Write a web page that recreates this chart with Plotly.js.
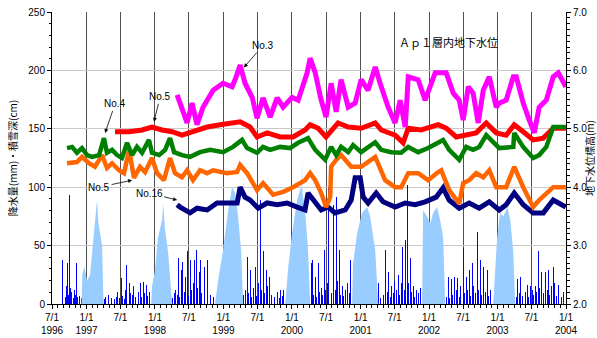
<!DOCTYPE html>
<html><head><meta charset="utf-8">
<script src="https://cdn.plot.ly/plotly-3.0.1.min.js"></script>
<style>html,body{margin:0;padding:0;background:#fff}#chart{width:597px;height:338px}</style>
</head><body><div id="chart"></div>
<script>
// ---- tick labels ----
const xTickDates = ['1996-07-01','1997-01-01','1997-07-01','1998-01-01','1998-07-01','1999-01-01','1999-07-01','2000-01-01','2000-07-01','2001-01-01','2001-07-01','2002-01-01','2002-07-01','2003-01-01','2003-07-01','2004-01-01'];
const xTickText = ['7/1<br>1996','1/1<br>1997','7/1','1/1<br>1998','7/1','1/1<br>1999','7/1','1/1<br>2000','7/1','1/1<br>2001','7/1','1/1<br>2002','7/1','1/1<br>2003','7/1','1/1<br>2004'];

// ---- groundwater level (m) ----
const no4Dates = ['1996-09-19','1996-10-16','1996-11-11','1996-12-08','1997-01-04','1997-01-30','1997-03-09','1997-04-04','1997-04-20','1997-05-17','1997-06-13','1997-07-09','1997-08-05','1997-09-01','1997-09-27','1997-10-24','1997-11-30','1997-12-16','1998-01-23','1998-02-24','1998-03-22','1998-04-13','1998-05-25','1998-07-07','1998-08-29','1998-10-22','1998-12-30','1999-02-21','1999-04-10','1999-05-07','1999-06-29','1999-07-31','1999-09-07','1999-10-30','1999-12-22','2000-02-03','2000-03-27','2000-05-04','2000-06-26','2000-07-28','2000-08-24','2000-09-19','2000-10-27','2000-11-22','2001-01-04','2001-03-20','2001-04-21','2001-06-13','2001-08-05','2001-09-12','2001-11-04','2001-12-27','2002-03-17','2002-04-18','2002-06-11','2002-07-18','2002-08-24','2002-09-25','2002-11-02','2002-12-09','2003-01-10','2003-03-26','2003-03-31','2003-05-18','2003-07-10','2003-08-11','2003-09-18','2003-10-25','2003-12-31'];
const no4Level = [4.67,4.69,4.59,4.67,4.55,4.52,4.55,4.84,4.59,4.64,4.55,4.50,4.76,4.55,4.69,4.59,4.81,4.59,4.55,4.64,4.84,4.60,4.55,4.52,4.60,4.64,4.60,4.69,4.81,4.67,4.59,4.69,4.64,4.69,4.67,4.76,4.84,4.64,4.47,4.69,4.55,4.69,4.60,4.72,4.60,4.77,4.64,4.60,4.59,4.69,4.60,4.67,4.81,4.64,4.47,4.69,4.64,4.69,4.89,4.76,4.67,4.69,4.93,4.69,4.50,4.55,4.69,5.03,5.03];

const no5Dates = ['1997-06-02','1997-08-16','1997-10-24','1997-12-16','1998-02-08','1998-04-02','1998-05-25','1998-07-23','1998-10-06','1998-12-14','1999-03-31','1999-05-23','1999-06-29','1999-08-22','1999-10-30','2000-01-07','2000-03-11','2000-04-07','2000-05-20','2000-07-01','2000-09-03','2000-10-27','2001-01-04','2001-03-20','2001-04-21','2001-07-04','2001-08-16','2001-09-12','2001-11-20','2002-02-19','2002-04-02','2002-05-26','2002-07-18','2002-09-09','2002-11-02','2002-12-25','2003-02-16','2003-03-31','2003-05-18','2003-07-10','2003-09-02','2003-10-25','2003-12-31'];
const no5Level = [4.95,4.95,4.98,5.03,4.98,4.95,4.89,4.95,5.03,5.07,5.12,5.03,4.86,4.93,4.86,4.86,4.98,5.07,5.01,4.86,5.10,5.03,5.01,5.10,4.98,4.89,4.76,5.01,4.98,5.07,5.01,4.86,4.89,4.93,5.10,4.93,4.89,5.07,4.95,4.81,4.84,5.01,5.01];

const no3Dates = ['1998-04-29','1998-06-21','1998-07-18','1998-08-13','1998-09-14','1998-11-07','1998-12-30','1999-02-16','1999-03-04','1999-03-31','1999-04-26','1999-06-03','1999-06-29','1999-07-31','1999-09-07','1999-10-14','1999-11-15','2000-01-02','2000-02-03','2000-03-22','2000-04-07','2000-05-04','2000-06-05','2000-07-01','2000-07-28','2000-08-24','2000-09-19','2000-10-27','2000-12-03','2001-01-04','2001-02-10','2001-03-20','2001-04-15','2001-05-28','2001-07-04','2001-07-31','2001-08-27','2001-09-12','2001-11-04','2001-12-11','2002-02-03','2002-04-02','2002-05-10','2002-06-11','2002-07-02','2002-07-29','2002-08-24','2002-09-20','2002-10-17','2002-11-18','2002-12-25','2003-01-10','2003-02-16','2003-03-26','2003-04-11','2003-05-18','2003-06-19','2003-07-16','2003-08-11','2003-09-18','2003-10-25','2003-11-21','2003-12-31'];
const no3Level = [5.58,5.10,5.44,5.07,5.37,5.66,5.78,5.72,5.84,6.09,5.78,5.54,5.18,5.53,5.20,5.53,5.37,5.54,5.49,5.96,6.21,5.96,5.49,5.20,5.78,5.29,5.84,5.37,5.44,5.84,5.66,6.06,5.78,5.37,5.10,5.49,5.03,5.89,5.84,5.49,5.96,5.96,5.61,5.49,5.15,5.72,5.61,5.10,5.66,5.89,5.37,5.44,5.49,5.89,5.89,5.44,5.15,4.93,5.37,5.49,5.89,5.96,5.72];

const no5LowDates = ['1996-09-19','1996-11-11','1996-12-08','1997-01-14','1997-02-15','1997-03-25','1997-04-20','1997-05-17','1997-06-23','1997-07-20','1997-08-16','1997-09-11','1997-10-13','1997-11-09','1997-12-16','1998-01-12','1998-02-18','1998-03-22','1998-04-18','1998-05-25','1998-06-21','1998-07-23','1998-08-29','1998-10-06','1998-11-07','1999-01-20','1999-03-15','1999-03-31','1999-05-07','1999-06-29','1999-07-31','1999-09-23','1999-11-15','2000-01-07','2000-03-11','2000-04-07','2000-05-04','2000-06-05','2000-07-01','2000-07-23','2000-07-28','2000-08-24','2000-09-19','2000-11-12','2001-01-04','2001-03-20','2001-05-12','2001-07-04','2001-08-05','2001-09-12','2001-11-04','2001-12-27','2002-02-19','2002-03-07','2002-04-18','2002-06-11','2002-07-02','2002-08-03','2002-09-09','2002-10-17','2002-11-18','2002-12-25','2003-02-16','2003-03-31','2003-05-18','2003-07-10','2003-08-11','2003-09-18','2003-10-25','2003-12-31'];
const no5LowLevel = [4.41,4.43,4.52,4.41,4.35,4.55,4.33,4.41,4.29,4.24,4.64,4.16,4.35,4.26,4.50,4.24,4.12,4.50,4.24,4.17,4.29,4.12,4.29,4.24,4.29,4.24,4.26,4.38,4.24,3.95,4.07,3.87,3.92,4.00,4.12,4.24,4.12,3.90,3.66,3.83,4.35,4.47,4.55,4.35,4.35,4.52,4.12,4.00,4.00,4.24,4.24,4.12,4.26,4.29,3.95,3.72,4.07,4.12,4.24,4.17,4.29,4.00,4.00,4.35,4.00,3.66,3.78,3.90,4.00,4.00];

const no16Dates = ['1998-04-29','1998-05-15','1998-07-07','1998-08-13','1998-10-06','1998-11-28','1999-03-15','1999-03-31','1999-04-26','1999-05-23','1999-07-05','1999-08-22','1999-10-14','1999-12-06','2000-01-29','2000-03-11','2000-03-27','2000-05-04','2000-06-05','2000-07-12','2000-08-18','2000-10-11','2000-11-12','2000-12-03','2000-12-30','2001-01-15','2001-02-10','2001-03-25','2001-05-01','2001-07-04','2001-08-27','2001-10-19','2001-12-11','2002-02-08','2002-03-17','2002-04-18','2002-06-11','2002-08-03','2002-09-25','2002-11-18','2003-01-10','2003-02-16','2003-03-31','2003-05-18','2003-07-10','2003-09-02','2003-10-25','2003-12-31'];
const no16Level = [3.70,3.66,3.56,3.64,3.61,3.73,3.73,4.00,3.83,3.78,3.64,3.73,3.70,3.73,3.66,3.61,3.90,3.73,3.61,3.66,3.56,3.61,3.78,4.16,4.16,3.83,3.73,3.90,3.75,3.66,3.73,3.70,3.75,3.83,3.99,3.78,3.64,3.73,3.64,3.75,3.61,3.70,3.90,3.70,3.56,3.56,3.78,3.66];

// ---- snow depth (cm) ----
const snowDates = ['1996-12-05','1996-12-10','1996-12-20','1997-01-04','1997-01-20','1997-02-05','1997-02-20','1997-02-26','1997-03-05','1997-03-14','1997-03-25','1997-03-31','1997-04-03',
 '1997-12-12','1997-12-16','1998-01-01','1998-01-17','1998-02-08','1998-02-13','1998-02-24','1998-03-12','1998-04-01','1998-04-03',
 '1998-11-17','1998-12-03','1998-12-30','1999-01-26','1999-02-16','1999-03-04','1999-03-20','1999-04-05','1999-04-16',
 '1999-11-26','1999-12-12','2000-01-02','2000-01-29','2000-02-14','2000-02-22','2000-02-24','2000-02-26','2000-03-11','2000-03-27','2000-04-07',
 '2000-11-17','2000-11-22','2000-12-14','2001-01-09','2001-02-05','2001-02-21','2001-03-20','2001-04-05',
 '2001-11-25','2001-11-30','2001-12-22','2002-01-07','2002-01-23','2002-02-13','2002-03-01','2002-03-17','2002-03-28',
 '2002-12-09','2002-12-30','2003-01-15','2003-01-31','2003-02-22','2003-03-10','2003-03-26','2003-04-05'];
const snowDepth = [0,25,32,20,25,55,80,89,70,62,50,10,0,
 0,15,29,57,72,86,63,44,3,0,
 0,20,46,80,100,95,75,46,0,
 0,31,61,89,98,100,125,95,80,46,0,
 0,35,61,78,83,75,46,0,
 0,80,75,69,78,83,72,57,0,
 0,57,78,75,83,72,44,0];

// ---- daily precipitation (mm) ----
const rainDates = ['1996-08-28','1996-09-03','1996-09-10','1996-09-17','1996-09-22','1996-09-28','1996-10-04','1996-10-09','1996-10-15','1996-10-22','1996-10-28','1996-11-05','1996-11-10','1996-11-15','1996-11-22','1996-11-27','1996-12-03',
 '1997-04-05','1997-04-12','1997-04-20','1997-04-28','1997-05-06','1997-05-14','1997-05-22','1997-05-30','1997-06-08','1997-06-17','1997-06-25','1997-07-04','1997-07-12','1997-07-20','1997-07-28','1997-08-04','1997-08-10','1997-08-17','1997-08-25','1997-09-02','1997-09-10','1997-09-18','1997-09-27','1997-10-05','1997-10-14','1997-10-22','1997-10-30','1997-11-07','1997-11-15','1997-11-24','1997-12-05',
 '1998-04-06','1998-04-14','1998-04-22','1998-04-30','1998-05-04','1998-05-12','1998-05-20','1998-05-27','1998-06-05','1998-06-13','1998-06-21','1998-06-29','1998-07-08','1998-07-15','1998-07-23','1998-07-31','1998-08-08','1998-08-16','1998-08-24','1998-09-01','1998-09-07','1998-09-14','1998-09-22','1998-09-30','1998-10-08','1998-10-16','1998-10-24','1998-11-01','1998-11-10',
 '1999-04-20','1999-04-28','1999-05-07','1999-05-15','1999-05-23','1999-06-01','1999-06-10','1999-06-20','1999-06-28','1999-07-06','1999-07-15','1999-07-22','1999-07-31','1999-08-08','1999-08-17','1999-08-25','1999-09-03','1999-09-12','1999-09-22','1999-09-30','1999-10-08','1999-10-17','1999-10-25','1999-11-02','1999-11-10','1999-11-18',
 '2000-04-12','2000-04-18','2000-04-26','2000-05-04','2000-05-12','2000-05-20','2000-05-28','2000-06-06','2000-06-14','2000-06-22','2000-06-30','2000-07-08','2000-07-15','2000-07-22','2000-07-30','2000-08-10','2000-08-18','2000-08-25','2000-09-02','2000-09-10','2000-09-18','2000-09-26','2000-10-04','2000-10-14','2000-10-24','2000-11-02','2000-11-10',
 '2001-04-08','2001-04-16','2001-04-25','2001-05-04','2001-05-14','2001-05-22','2001-05-30','2001-06-08','2001-06-16','2001-06-25','2001-07-03','2001-07-12','2001-07-20','2001-07-28','2001-08-05','2001-08-14','2001-08-22','2001-08-30','2001-09-06','2001-09-14','2001-09-22','2001-09-30','2001-10-08','2001-10-17','2001-10-26','2001-11-04','2001-11-14',
 '2002-04-05','2002-04-14','2002-04-22','2002-04-30','2002-05-08','2002-05-16','2002-05-25','2002-06-02','2002-06-10','2002-06-20','2002-07-02','2002-07-10','2002-07-18','2002-07-26','2002-08-03','2002-08-12','2002-08-20','2002-08-28','2002-09-05','2002-09-14','2002-09-22','2002-10-01','2002-10-10','2002-10-20','2002-10-29','2002-11-07','2002-11-15','2002-11-25',
 '2003-04-10','2003-04-18','2003-04-27','2003-05-05','2003-05-14','2003-05-22','2003-05-31','2003-06-08','2003-06-17','2003-06-26','2003-07-05','2003-07-13','2003-07-21','2003-07-29','2003-08-08','2003-08-15','2003-08-23','2003-09-01','2003-09-14','2003-09-22','2003-09-30','2003-10-05','2003-10-14','2003-10-25','2003-11-02','2003-11-12','2003-11-20','2003-11-30','2003-12-10','2003-12-20'];
const rainMm = [38,12,6,15,35,8,93,14,10,5,12,8,35,6,9,7,5,
 4,6,3,8,32,5,18,4,6,10,5,22,7,4,12,33,62,18,9,8,15,6,72,10,18,6,19,9,16,7,10,
 5,9,12,8,39,6,29,36,10,23,45,7,38,12,18,38,46,14,27,38,9,140,32,11,38,12,8,15,6,
 8,12,40,9,29,6,14,32,7,18,89,12,45,9,29,15,23,8,18,6,27,10,5,12,7,12,
 35,38,8,23,6,35,10,14,8,46,12,18,100,15,9,85,12,92,20,46,8,15,7,12,18,9,38,
 18,5,12,8,46,10,27,6,15,9,20,12,25,8,18,49,12,55,102,18,39,10,15,6,12,9,14,
 6,23,5,21,8,23,12,22,6,15,48,9,23,12,29,7,35,15,9,62,12,38,8,32,10,29,7,12,
 6,21,9,23,7,25,10,16,6,15,12,8,15,10,45,14,27,9,27,12,29,8,15,32,18,7,16,9,6,10];

const DAY = 86400000;
const jp = 'Noto Sans CJK JP';
const lat = 'Liberation Sans, Arial, sans-serif';

const traces = [
  {type:'bar', x:rainDates, y:rainMm, width:5*DAY, marker:{color:'#0000ff', line:{width:0}}, yaxis:'y', name:'降水量', hoverinfo:'skip'},
  {type:'scatter', mode:'lines', x:snowDates, y:snowDepth, fill:'tozeroy', fillcolor:'#99ccff', line:{width:0, color:'#99ccff'}, yaxis:'y', name:'積雪深'},
  {type:'scatter', mode:'lines', x:no16Dates, y:no16Level, line:{color:'#000080', width:5}, yaxis:'y2', name:'No.16'},
  {type:'scatter', mode:'lines', x:no5LowDates, y:no5LowLevel, line:{color:'#ff6600', width:4.5}, yaxis:'y2', name:'No.5'},
  {type:'scatter', mode:'lines', x:no5Dates, y:no5Level, line:{color:'#ff0000', width:5}, yaxis:'y2', name:'No.5'},
  {type:'scatter', mode:'lines', x:no4Dates, y:no4Level, line:{color:'#008000', width:4.5}, yaxis:'y2', name:'No.4'},
  {type:'scatter', mode:'lines', x:no3Dates, y:no3Level, line:{color:'#ff00ff', width:5}, yaxis:'y2', name:'No.3'}
];

function arrowNote(text, x, y, ax, ay){
  return {x:x, y:y, xref:'x', yref:'y2', text:text, showarrow:true, arrowhead:2, arrowsize:1, arrowwidth:0.8, arrowcolor:'#000',
          ax:ax, ay:ay, font:{family:lat, size:10, color:'#000'}};
}

const layout = {
  width:597, height:338,
  margin:{l:52, r:31, t:12, b:34, pad:0},
  paper_bgcolor:'#fff', plot_bgcolor:'#fff',
  showlegend:false,
  bargap:0,
  font:{family:lat, size:10, color:'#000'},
  xaxis:{type:'date', range:['1996-07-01','2004-01-01'], tickmode:'array', tickvals:xTickDates, ticktext:xTickText,
         ticks:'outside', ticklen:4, tickcolor:'#000', showline:true, linecolor:'#000', linewidth:1,
         showgrid:true, gridcolor:'#505050', gridwidth:1, zeroline:false,
         tickfont:{family:lat, size:10, color:'#000'},
         minor:{dtick:'M1', tick0:'1996-07-01', ticks:'outside', ticklen:2.5, tickcolor:'#000', showgrid:false}},
  yaxis:{range:[0,250], dtick:50, tick0:0, ticks:'outside', ticklen:4, tickcolor:'#000', showline:true, linecolor:'#000', linewidth:1,
         showgrid:true, gridcolor:'#c8c8c8', gridwidth:1, zeroline:false,
         tickfont:{family:lat, size:10, color:'#000'},
         minor:{dtick:10, ticks:'outside', ticklen:2.5, tickcolor:'#000', showgrid:false},
         title:{text:'降水量(mm)・積雪深(cm)', font:{family:jp, size:10, color:'#000'}, standoff:8}},
  yaxis2:{range:[2,7], dtick:1, tick0:2, tickformat:'.1f', overlaying:'y', side:'right', anchor:'x',
          ticks:'outside', ticklen:4, tickcolor:'#000', showline:true, linecolor:'#000', linewidth:1,
          showgrid:false, zeroline:false,
          tickfont:{family:lat, size:10, color:'#000'},
          minor:{dtick:0.1, ticks:'outside', ticklen:2.5, tickcolor:'#000', showgrid:false},
          title:{text:'地下水位標高(m)', font:{family:jp, size:10, color:'#000'}, standoff:4}},
  annotations:[
    arrowNote('No.3','1999-04-20',6.05,19,-22),
    arrowNote('No.4','1997-04-10',4.93,10,-29),
    arrowNote('No.5','1997-12-27',5.12,6,-25),
    arrowNote('No.5','1997-09-01',4.12,-33,7),
    arrowNote('No.16','1998-04-29',3.78,-28,-7),
    {x:0.872, y:0.932, xref:'paper', yref:'paper', text:'Ａｐ１層内地下水位', showarrow:false,
     font:{family:jp, size:11, color:'#000'}}
  ]
};

Plotly.newPlot('chart', traces, layout, {staticPlot:true, displayModeBar:false});
</script></body></html>
